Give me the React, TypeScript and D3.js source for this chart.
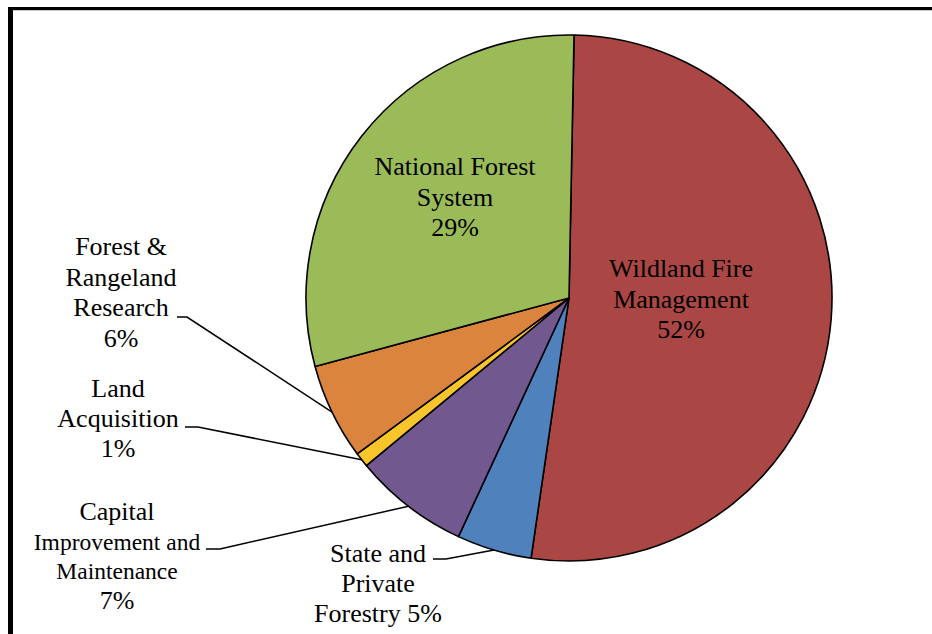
import React from "react";
import * as d3 from "d3";

const categories = [
  "Wildland Fire Management",
  "State and Private Forestry",
  "Capital Improvement and Maintenance",
  "Land Acquisition",
  "Forest & Rangeland Research",
  "National Forest System",
];
const values = [52.0, 4.6, 7.1, 0.9, 5.9, 29.5];
const colors = ["#AA4643", "#4F81BD", "#71588F", "#F9C52A", "#DB843D", "#9BBB59"];
// label text lines per category
const labelLines = [
  ["Wildland Fire", "Management", "52%"],
  ["State and", "Private", "Forestry 5%"],
  ["Capital", "Improvement and", "Maintenance", "7%"],
  ["Land", "Acquisition", "1%"],
  ["Forest &", "Rangeland", "Research", "6%"],
  ["National Forest", "System", "29%"],
];

const W = 932;
const H = 634;
const cx = 569;
const cy = 298;
const R = 263;
const startOffset = (1.1 * Math.PI) / 180;

// label layout: [center x, first baseline y, line spacing, leader anchor (x,y) or null, font sizes]
const labelLayout = [
  { x: 681, y: 277, dy: 30.5, leader: null as null | [number, number, number] },
  { x: 378, y: 562, dy: 30, leader: [433, 446, 559] as [number, number, number] },
  { x: 117, y: 520, dy: 29.5, leader: [206, 220, 549] as [number, number, number] },
  { x: 118, y: 397, dy: 30, leader: [185, 198, 427] as [number, number, number] },
  { x: 121, y: 255, dy: 30.7, leader: [177, 187, 317] as [number, number, number] },
  { x: 455, y: 175, dy: 30.5, leader: null as null | [number, number, number] },
];

export default function App() {
  const pie = d3
    .pie<number>()
    .sort(null)
    .startAngle(startOffset)
    .endAngle(startOffset + 2 * Math.PI)
    .value((d) => d);
  const arcs = pie(values);
  const arc = d3.arc<d3.PieArcDatum<number>>().innerRadius(0).outerRadius(R);
  const edgeArc = d3.arc<d3.PieArcDatum<number>>().innerRadius(R).outerRadius(R);

  return (
    <svg
      width={W}
      height={H}
      style={{ position: "absolute", left: 0, top: 0, background: "#fff" }}
      fontFamily="'Liberation Serif', 'Times New Roman', serif"
    >
      <rect x={0} y={0} width={W} height={H} fill="#fff" />
      {/* frame */}
      <line x1={13} x2={W} y1={10.5} y2={10.5} stroke="#c8c8c8" strokeWidth={1} />
      <rect x={8} y={7} width={W - 8} height={3} fill="#000" />
      <rect x={8} y={7} width={5} height={H - 7} fill="#000" />

      <g transform={`translate(${cx},${cy})`}>
        {arcs.map((a, i) => (
          <path
            key={categories[i]}
            d={arc(a) || ""}
            fill={colors[i]}
            stroke="#000"
            strokeWidth={1.6}
            strokeLinejoin="round"
          />
        ))}
      </g>

      {/* leader lines */}
      {arcs.map((a, i) => {
        const L = labelLayout[i].leader;
        if (!L) return null;
        const [ex, ey] = edgeArc.centroid(a);
        return (
          <polyline
            key={"l" + i}
            points={`${L[0]},${L[2]} ${L[1]},${L[2]} ${cx + ex},${cy + ey}`}
            fill="none"
            stroke="#000"
            strokeWidth={1.5}
          />
        );
      })}

      {/* labels */}
      {labelLines.map((lines, i) => {
        const lay = labelLayout[i];
        return (
          <text key={"t" + i} textAnchor="middle" fill="#000" fontSize={26}>
            {lines.map((ln, j) => (
              <tspan
                key={j}
                x={lay.x}
                y={lay.y + j * lay.dy}
                fontSize={ln === "Improvement and" || ln === "Maintenance" ? 23.5 : 26}
              >
                {ln}
              </tspan>
            ))}
          </text>
        );
      })}
    </svg>
  );
}
